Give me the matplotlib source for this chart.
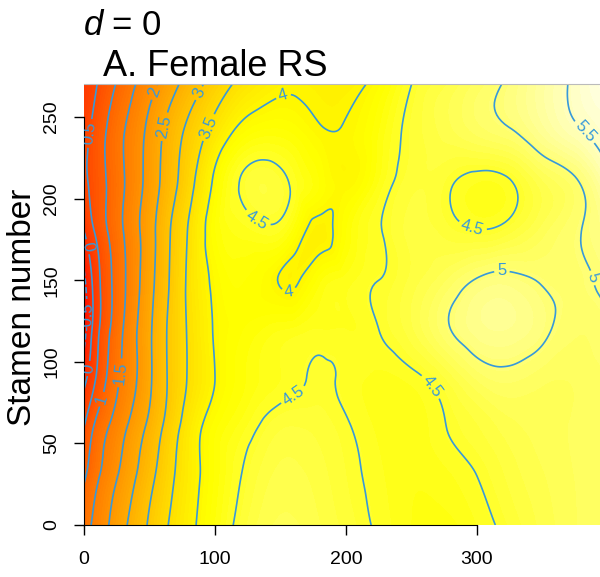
# -*- coding: utf-8 -*-
import colorsys
import numpy as np
import matplotlib
matplotlib.use("Agg")
import matplotlib.pyplot as plt
import matplotlib.tri as mtri

plt.rcParams['font.family'] = ['Liberation Sans', 'DejaVu Sans']
plt.rcParams['mathtext.fontset'] = 'custom'
plt.rcParams['mathtext.it'] = 'Liberation Sans:italic'
plt.rcParams['mathtext.rm'] = 'Liberation Sans'

#---    Data (female RS surface)
x_nodes = [0, 10, 20, 35, 50, 65, 80, 100, 120, 140, 160, 180, 200, 225, 250, 275, 300, 325, 350, 375, 400]
y_nodes = [0, 30, 60, 90, 120, 150, 180, 210, 240, 270]

rs_y0   = [1.30, 1.67, 2.04, 2.57, 3.06, 3.52, 3.88, 4.28, 4.58, 4.75, 4.78, 4.70, 4.60, 4.47, 4.35, 4.32, 4.42, 4.57, 4.72, 4.83, 4.92]
rs_y30  = [0.92, 1.42, 1.80, 2.33, 2.85, 3.37, 3.80, 4.22, 4.50, 4.68, 4.72, 4.66, 4.56, 4.44, 4.36, 4.40, 4.50, 4.65, 4.76, 4.84, 4.91]
rs_y60  = [0.50, 1.15, 1.54, 2.08, 2.62, 3.20, 3.73, 4.18, 4.38, 4.56, 4.63, 4.60, 4.52, 4.40, 4.37, 4.49, 4.62, 4.74, 4.80, 4.85, 4.90]
rs_y90  = [-0.15, 0.57, 1.17, 1.79, 2.42, 3.06, 3.54, 4.00, 4.25, 4.38, 4.46, 4.52, 4.47, 4.40, 4.45, 4.62, 4.85, 4.93, 4.86, 4.85, 4.90]
rs_y120 = [-0.70, 0.36, 1.00, 1.75, 2.42, 3.07, 3.55, 4.03, 4.20, 4.30, 4.36, 4.42, 4.42, 4.50, 4.68, 4.95, 5.15, 5.18, 5.05, 4.92, 4.97]
rs_y150 = [-0.60, 0.33, 0.94, 1.65, 2.33, 3.00, 3.58, 4.08, 4.22, 4.10, 3.95, 4.25, 4.38, 4.50, 4.65, 4.82, 5.02, 5.07, 4.98, 4.96, 5.05]
rs_y180 = [0.00, 0.62, 1.08, 1.70, 2.30, 2.96, 3.54, 4.20, 4.38, 4.45, 4.22, 3.90, 4.20, 4.48, 4.65, 4.60, 4.52, 4.60, 4.80, 4.97, 5.15]
rs_y210 = [0.40, 0.75, 1.11, 1.64, 2.19, 2.77, 3.32, 4.08, 4.52, 4.62, 4.45, 4.20, 4.03, 4.35, 4.60, 4.56, 4.42, 4.48, 4.75, 4.96, 5.42]
rs_y240 = [0.33, 0.73, 1.13, 1.63, 2.14, 2.67, 3.13, 3.70, 4.12, 4.25, 4.20, 4.04, 4.03, 4.28, 4.57, 4.72, 4.85, 4.96, 5.20, 5.43, 5.62]
rs_y270 = [0.13, 0.50, 0.86, 1.37, 1.82, 2.28, 2.71, 3.22, 3.62, 3.85, 3.95, 3.90, 3.88, 4.12, 4.50, 4.68, 4.86, 5.05, 5.30, 5.56, 5.80]

z_rows = [rs_y0, rs_y30, rs_y60, rs_y90, rs_y120, rs_y150, rs_y180, rs_y210, rs_y240, rs_y270]

contour_levels = np.arange(-0.5, 5.51, 0.5)
x_ticks = [0, 100, 200, 300]
y_ticks = [0, 50, 100, 150, 200, 250]

# where R put the contour labels
label_pos = [(1, 128), (3, 96), (4.6, 240), (6, 171), (14, 77), (30, 93),
             (54, 265), (62, 244), (87, 265), (94, 244), (153, 261), (157, 141),
             (132, 187), (159, 81), (262, 83), (296, 181), (319, 155), (379, 150), (381, 240)]


def heat_colors(n):
    # same as R's heat.colors()
    j = n // 4
    i = n - j
    cols = [colorsys.hsv_to_rgb(h, 1, 1) for h in np.linspace(0, 1 / 6, i)]
    cols += [colorsys.hsv_to_rgb(1 / 6, s, 1) for s in np.linspace(1 - 1 / (2 * j), 1 / (2 * j), j)]
    return cols


X, Y = np.meshgrid(x_nodes, y_nodes)
Z = np.array(z_rows)
tri = mtri.Triangulation(X.ravel(), Y.ravel())
interp = mtri.CubicTriInterpolator(tri, Z.ravel(), kind='min_E')
refiner = mtri.UniformTriRefiner(tri)
tri_f, z_f = refiner.refine_field(Z.ravel(), triinterpolator=interp, subdiv=4)

vmin, vmax = -1.0, 5.95
n_col = 100
fill_levels = np.linspace(vmin, vmax, n_col + 1)

fig = plt.figure(figsize=(6.0, 5.77), dpi=100)
ax = fig.add_axes([0.14, 0.0901, 0.86, 0.7635])

ax.tricontourf(tri_f, np.clip(z_f, vmin + 1e-6, vmax - 1e-6), levels=fill_levels,
               colors=heat_colors(n_col), antialiased=False)
cs = ax.tricontour(tri_f, z_f, levels=contour_levels, colors='#3799DA', linewidths=1.2)
ax.clabel(cs, fmt=lambda v: f'{v:g}', fontsize=12, inline=True, inline_spacing=3,
          manual=label_pos)

ax.set_xlim(0, 393.9)
ax.set_ylim(0, 270)
ax.set_xticks(x_ticks)
ax.set_yticks(y_ticks)
ax.tick_params(axis='both', labelsize=14, length=7, width=1, direction='out')
ax.tick_params(axis='x', pad=12)
ax.tick_params(axis='y', pad=10, labelrotation=90)
for lab in ax.get_yticklabels():
    lab.set_va('center')

ax.spines['right'].set_visible(False)
ax.spines['top'].set_color('#bbbbbb')
ax.spines['top'].set_linewidth(0.8)
ax.spines['left'].set_bounds(0, 250)
ax.spines['bottom'].set_bounds(0, 300)

fig.text(0.138, 0.939, r'$\it{d}$ = 0', fontsize=25, ha='left', va='baseline')
fig.text(0.172, 0.868, 'A. Female RS', fontsize=26, ha='left', va='baseline')
fig.text(0.038, 0.468, 'Stamen number', fontsize=24, rotation=90, ha='center', va='center')

plt.savefig('out.png', dpi=100)
